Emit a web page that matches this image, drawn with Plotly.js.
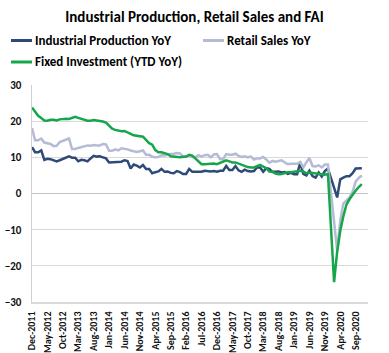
<!DOCTYPE html>
<html>
<head>
<meta charset="utf-8">
<script src="https://cdn.plot.ly/plotly-3.0.1.min.js"></script>
<style>html,body{margin:0;padding:0;background:#fff;}#chart{width:389px;height:353px;}</style>
</head>
<body>
<div id="chart"></div>
<script>
// Monthly categories: Dec-2011 .. Nov-2020
var startYear = 2011, startMonth = 11, nMonths = 108;
var monthNames = ['Jan','Feb','Mar','Apr','May','Jun','Jul','Aug','Sep','Oct','Nov','Dec'];
var months = [];
for (var i = 0; i < nMonths; i++) {
  var m = (startMonth + i) % 12, y = startYear + Math.floor((startMonth + i) / 12);
  months.push(monthNames[m] + '-' + y);
}
var tickLabels = ['Dec-2011','May-2012','Oct-2012','Mar-2013','Aug-2013','Jan-2014','Jun-2014','Nov-2014',
  'Apr-2015','Sep-2015','Feb-2016','Jul-2016','Dec-2016','May-2017','Oct-2017','Mar-2018','Aug-2018',
  'Jan-2019','Jun-2019','Nov-2019','Apr-2020','Sep-2020'];

var seriesNames = ['Industrial Production YoY', 'Retail Sales YoY', 'Fixed Investment (YTD YoY)'];

var industrialProduction = [12.8,
  11.4,11.4,11.9,9.3,9.6,9.5,9.2,8.9,9.2,9.6,10.1,10.3,
  9.9,9.9,8.9,9.3,9.2,8.9,9.7,10.4,10.2,10.3,10.0,9.7,
  8.6,8.6,8.8,8.7,8.8,9.2,9.0,6.9,8.0,7.7,7.2,7.9,
  6.8,6.8,5.6,5.9,6.1,6.8,6.0,6.1,5.7,5.6,6.2,5.9,
  5.4,5.4,6.8,6.0,6.0,6.2,6.0,6.3,6.1,6.1,6.2,6.0,
  6.3,6.3,7.6,6.5,6.5,7.6,6.4,6.0,6.6,6.2,6.1,6.2,
  7.2,7.2,6.0,7.0,6.8,6.0,6.0,6.1,5.8,5.9,5.4,5.7,
  5.3,5.3,8.5,5.4,5.0,6.3,4.8,4.4,5.8,4.7,6.2,6.9,
  null,null,-1.1,3.9,4.4,4.8,4.8,5.6,6.9,6.9,7.0];

var retailSales = [18.1,
  14.7,14.7,15.2,14.1,13.8,13.7,13.1,13.2,14.2,14.5,14.9,15.2,
  12.3,12.3,12.6,12.8,12.9,13.3,13.2,13.4,13.3,13.3,13.7,13.6,
  11.8,11.8,12.2,11.9,12.5,12.4,12.2,11.9,11.6,11.5,11.7,11.9,
  10.7,10.7,10.2,10.0,10.1,10.6,10.5,10.8,10.9,11.0,11.2,11.1,
  10.2,10.2,10.5,10.1,10.0,10.6,10.2,10.6,10.7,10.0,10.8,10.9,
  9.5,9.5,10.9,10.7,10.7,11.0,10.4,10.1,10.3,10.0,10.2,9.4,
  9.7,9.7,10.1,9.4,8.5,9.0,8.8,9.0,9.2,8.6,8.1,8.2,
  8.2,8.2,8.7,7.2,8.6,9.8,7.6,7.5,7.8,7.2,8.0,8.0,
  null,null,-15.8,-7.5,-2.8,-1.8,-1.1,0.5,3.3,4.3,5.0];

var fixedInvestment = [23.8,
  null,21.5,20.9,20.2,20.1,20.4,20.4,20.2,20.5,20.7,20.7,20.6,
  null,21.2,20.9,20.6,20.4,20.1,20.1,20.3,20.2,20.1,19.9,19.6,
  null,17.9,17.6,17.3,17.2,17.3,17.0,16.5,16.1,15.9,15.8,15.7,
  null,13.9,13.5,12.0,11.4,11.4,11.2,10.9,10.3,10.2,10.2,10.0,
  null,10.2,10.7,10.5,9.6,9.0,8.1,8.1,8.2,8.3,8.3,8.1,
  null,8.9,9.2,8.9,8.6,8.6,8.3,7.8,7.5,7.3,7.2,7.2,
  null,7.9,7.5,7.0,6.1,6.0,5.5,5.3,5.4,5.7,5.9,5.9,
  null,6.1,6.3,6.1,5.6,5.8,5.7,5.5,5.4,5.2,5.2,5.4,
  null,-24.5,-16.1,-10.3,-6.3,-3.1,-1.6,-0.3,0.8,1.8,2.6];

var colors = ['#2e4a78', '#b5bbd4', '#17a54b'];
var FONT = 'Carlito, "Liberation Sans Narrow", Lato, "Open Sans", sans-serif';

var W = 389, H = 353;
var margin = {l: 32, r: 21, t: 85, b: 51};
var plotW = W - margin.l - margin.r, plotH = H - margin.t - margin.b;
function px2x(px) { return (px - margin.l) / plotW; }
function py2y(py) { return (H - margin.b - py) / plotH; }

var dataSeries = [industrialProduction, retailSales, fixedInvestment];
var traces = dataSeries.map(function (vals, k) {
  return {x: months, y: vals, name: seriesNames[k], type: 'scatter', mode: 'lines',
    connectgaps: true, line: {color: colors[k], width: 2.5}, showlegend: false};
});

// Manual legend (line sample + text), placed like the reference
var legendPos = [{lx: 11, ly: 40.5}, {lx: 203, ly: 40.5}, {lx: 11, ly: 62}];
var shapes = [], annotations = [];
legendPos.forEach(function (p, k) {
  shapes.push({type: 'line', xref: 'paper', yref: 'paper',
    x0: px2x(p.lx), x1: px2x(p.lx + 21), y0: py2y(p.ly), y1: py2y(p.ly),
    line: {color: colors[k], width: 3}});
  annotations.push({xref: 'paper', yref: 'paper', x: px2x(p.lx + 22), y: py2y(p.ly),
    xanchor: 'left', yanchor: 'middle', showarrow: false, text: seriesNames[k],
    font: {family: FONT, size: 13, weight: 'bold', color: '#000'}});
});

var layout = {
  width: W, height: H,
  margin: {l: margin.l, r: margin.r, t: margin.t, b: margin.b, autoexpand: false},
  paper_bgcolor: '#fff', plot_bgcolor: '#fff',
  font: {family: FONT, color: '#000'},
  title: {text: 'Industrial Production, Retail Sales and FAI', x: 0.5, xanchor: 'center', y: 1 - 16.5 / H, yanchor: 'middle',
    font: {family: FONT, size: 15, weight: 'bold', color: '#000'}},
  showlegend: false,
  xaxis: {type: 'category', range: [0, 109], tickmode: 'array', tickvals: tickLabels, ticktext: tickLabels,
    tickangle: -90, tickfont: {family: FONT, size: 10, weight: 'bold', color: '#111'},
    showgrid: false, showline: true, linecolor: '#d9d9d9', linewidth: 1.5, zeroline: false, ticks: '',
    ticklabelstandoff: 4, fixedrange: true},
  yaxis: {range: [-30, 30], dtick: 10, tick0: 0, showgrid: true, gridcolor: '#d9d9d9', gridwidth: 1.3,
    zeroline: true, zerolinecolor: '#c4c4c4', zerolinewidth: 1.3,
    showline: true, linecolor: '#d0d0d0', linewidth: 1.5,
    tickfont: {family: FONT, size: 11, weight: 'bold', color: '#111'}, ticks: '', ticklabelstandoff: 7, fixedrange: true},
  shapes: shapes,
  annotations: annotations
};

Plotly.newPlot('chart', traces, layout, {displayModeBar: false, staticPlot: true});
</script>
</body>
</html>
